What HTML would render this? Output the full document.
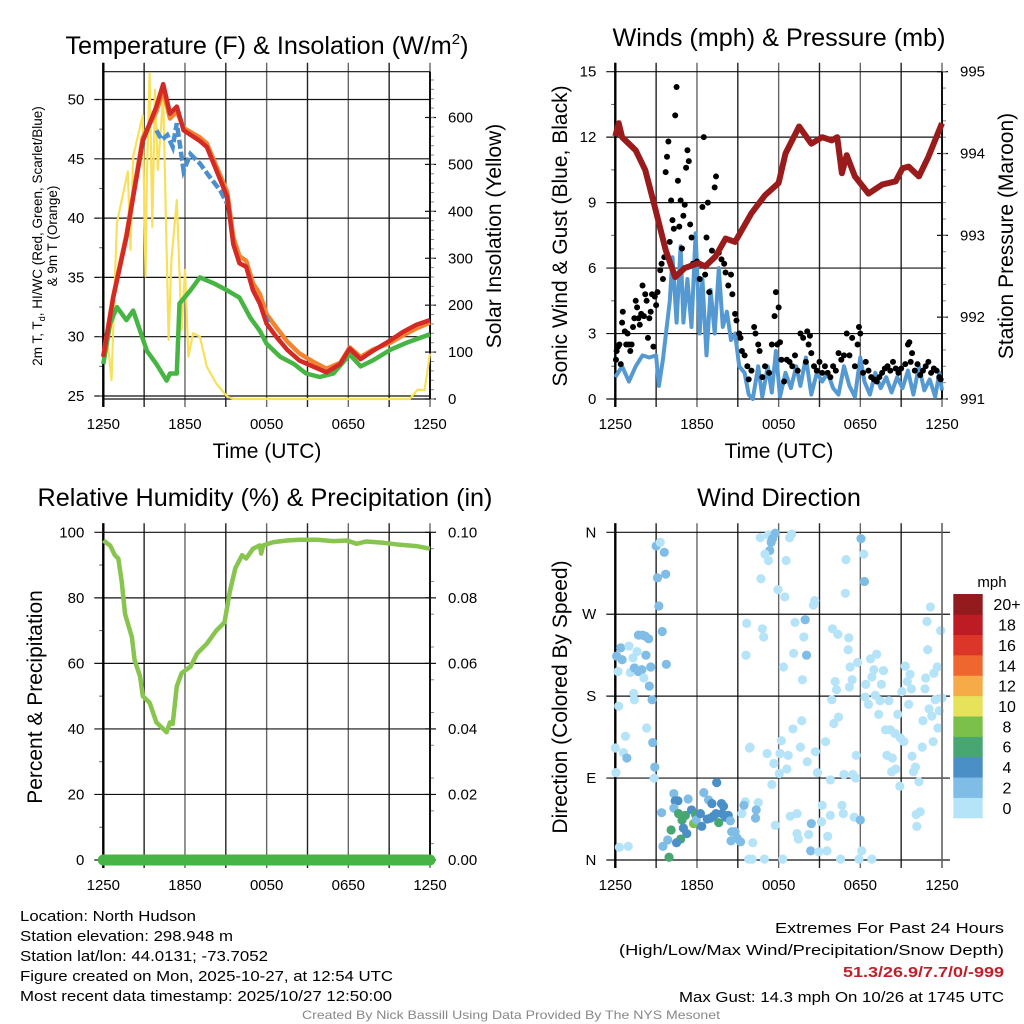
<!DOCTYPE html>
<html><head><meta charset="utf-8"><title>NYS Mesonet North Hudson</title>
<style>
html,body{margin:0;padding:0;background:#fff;}
svg{display:block;font-family:"Liberation Sans",Arial,sans-serif;}
</style></head>
<body>
<svg id="fig" xmlns="http://www.w3.org/2000/svg" width="1024" height="1024" viewBox="0 0 1024 1024">
<rect width="1024" height="1024" fill="#fff"/>
<g id="layer"></g>
<g fill="#000">
<text x="267" y="54" font-size="25.2" text-anchor="middle">Temperature (F) &amp; Insolation (W/m<tspan font-size="15" dy="-10">2</tspan><tspan dy="10">)</tspan></text>
<text x="779" y="46" font-size="25.2" text-anchor="middle">Winds (mph) &amp; Pressure (mb)</text>
<text x="265" y="506" font-size="25.2" text-anchor="middle">Relative Humidity (%) &amp; Precipitation (in)</text>
<text x="779" y="506" font-size="25.2" text-anchor="middle">Wind Direction</text>
<text transform="translate(42,236) rotate(-90)" font-size="13.5" text-anchor="middle">2m T, T<tspan font-size="9" dy="3">d</tspan><tspan dy="-3">, HI/WC (Red, Green, Scarlet/Blue)</tspan></text>
<text transform="translate(57,236) rotate(-90)" font-size="13.5" text-anchor="middle">&amp; 9m T (Orange)</text>
<text transform="translate(501,236) rotate(-90)" font-size="21" text-anchor="middle">Solar Insolation (Yellow)</text>
<text x="267" y="458" font-size="21" text-anchor="middle">Time (UTC)</text>
<text transform="translate(567,236) rotate(-90)" font-size="21" text-anchor="middle">Sonic Wind &amp; Gust (Blue, Black)</text>
<text transform="translate(1013,236) rotate(-90)" font-size="21" text-anchor="middle">Station Pressure (Maroon)</text>
<text x="779" y="458" font-size="21" text-anchor="middle">Time (UTC)</text>
<text transform="translate(42,697) rotate(-90)" font-size="21" text-anchor="middle">Percent &amp; Precipitation</text>
<text transform="translate(567,697) rotate(-90)" font-size="21" text-anchor="middle">Direction (Colored By Speed)</text>
<text x="992" y="587" font-size="15" text-anchor="middle">mph</text>
</g>
<g font-size="15" fill="#000">
<text x="20" y="921" textLength="176" lengthAdjust="spacingAndGlyphs">Location: North Hudson</text>
<text x="20" y="941" textLength="213" lengthAdjust="spacingAndGlyphs">Station elevation: 298.948 m</text>
<text x="20" y="961" textLength="248" lengthAdjust="spacingAndGlyphs">Station lat/lon: 44.0131; -73.7052</text>
<text x="20" y="981" textLength="373" lengthAdjust="spacingAndGlyphs">Figure created on Mon, 2025-10-27, at 12:54 UTC</text>
<text x="20" y="1001" textLength="372" lengthAdjust="spacingAndGlyphs">Most recent data timestamp: 2025/10/27 12:50:00</text>
<text x="1004" y="933" text-anchor="end" textLength="229" lengthAdjust="spacingAndGlyphs">Extremes For Past 24 Hours</text>
<text x="1004" y="955" text-anchor="end" textLength="385" lengthAdjust="spacingAndGlyphs">(High/Low/Max Wind/Precipitation/Snow Depth)</text>
<text x="1004" y="977" text-anchor="end" textLength="161" lengthAdjust="spacingAndGlyphs" fill="#c0202a" font-weight="bold">51.3/26.9/7.7/0/-999</text>
<text x="1004" y="1002" text-anchor="end" textLength="325" lengthAdjust="spacingAndGlyphs">Max Gust: 14.3 mph On 10/26 at 1745 UTC</text>
<text x="511" y="1019" text-anchor="middle" font-size="12" fill="#888" textLength="418" lengthAdjust="spacingAndGlyphs">Created By Nick Bassill Using Data Provided By The NYS Mesonet</text>
</g>
</svg>
<script>
// ---------- data (time in hours since 1250 UTC) ----------
const xTickLabels = ["1250","1850","0050","0650","1250"];
const tempTimes = [0,0.73,1.7,2.2,2.9,3.9,4.4,4.9,5.4,5.9,7.1,7.6,9.1,9.55,10.0,10.5,11.0,11.5,12.0,12.7,13.5,14.4,15.4,16.4,17.4,18.1,18.9,19.8,21.1,22.0,23.0,24];
const tempValues = [28.3,33.3,38.4,41.8,46.5,49.4,51.3,48.8,49.4,47.4,46.5,46.0,41.8,37.8,36.2,35.9,33.9,32.8,31.1,30.0,28.9,28.0,27.5,27.0,27.7,29.0,28.1,28.8,29.7,30.4,31.0,31.4];
const temp9mValues = [28.4,33.4,38.6,42.0,46.8,49.0,50.8,48.4,49.0,47.6,46.8,46.3,42.2,38.4,36.8,36.4,34.5,33.6,31.9,30.8,29.6,28.6,27.9,27.3,27.8,29.1,28.3,28.9,29.5,30.1,30.7,31.2];
const hiwcTimes = [3.9,4.3,4.7,5.1,5.4,5.9,6.4,7.1,7.8,8.6,9.1,null,11.9,12.1];
const hiwcValues = [47.4,46.6,47.0,46.0,48.0,44.0,45.4,44.6,43.5,42.3,41.2,null,31.8,31.2];
const dewTimes = [0,0.5,1.0,1.7,2.2,2.7,3.2,3.9,4.65,4.9,5.4,5.6,6.4,7.1,8.1,9.1,10.0,10.8,11.5,12.0,13.0,14.0,14.9,15.9,16.9,18.1,18.9,19.8,21.1,22.3,24];
const dewValues = [27.7,31.1,32.5,31.4,32.2,30.5,28.8,27.7,26.3,26.9,26.9,32.8,33.9,35.0,34.5,33.9,33.3,31.6,30.5,29.4,28.3,27.7,26.9,26.6,26.9,28.5,27.5,28.0,28.9,29.5,30.2];
const solarTimes = [0,0.25,0.6,1.0,1.8,2.0,2.2,2.9,3.1,3.2,3.4,3.6,3.8,4.0,4.4,4.8,5.0,5.4,5.75,6.0,6.25,6.6,7.1,7.6,8.3,9.1,9.6,22.5,23.1,23.6,24];
const solarValues = [76,144,40,375,485,318,517,605,261,474,694,367,659,488,645,126,296,424,147,275,90,140,133,69,33,5,0,0,20,19,97];
const pressTimes = [0,0.25,0.5,1.5,2.2,2.9,3.7,4.4,5.1,6.1,6.6,7.35,8.1,8.8,10.0,11.0,12.0,12.5,13.5,14.4,15.2,15.9,16.3,16.65,17.0,17.6,18.6,19.6,20.6,21.1,21.55,22.3,23.0,24];
const pressValues = [994.21,994.37,994.2,994.04,993.8,993.35,992.82,992.49,992.6,992.66,992.62,992.74,992.96,992.92,993.27,993.49,993.64,994.0,994.33,994.12,994.2,994.16,994.2,993.76,993.98,993.72,993.51,993.62,993.66,993.82,993.84,993.72,993.96,994.37];
const windTimes = [0,0.5,1.0,1.5,2.0,2.5,3.0,3.2,3.5,4.0,4.2,4.5,4.8,5.0,5.3,5.6,5.9,6.2,6.4,6.7,7.0,7.3,7.6,7.9,8.2,8.5,8.8,9.1,9.5,9.8,10.1,10.5,10.8,11.2,11.5,11.8,12.1,12.5,12.9,13.3,13.6,14.0,14.4,14.8,15.2,15.6,16.0,16.4,16.8,17.2,17.6,18.0,18.3,18.7,19.1,19.5,19.9,20.3,20.7,21.1,21.5,21.9,22.3,22.7,23.1,23.5,23.8,24];
const windValues = [1.0,1.5,0.8,1.5,2.0,1.9,2.0,0.6,1.8,4.5,6.5,3.5,7.0,3.5,5.5,3.3,7.6,3.0,5.5,2.0,5.0,3.0,6.0,3.3,4.0,2.7,3.0,1.5,1.2,0.2,0,1.5,0.1,1.5,0.3,2.2,0.1,1.2,0.5,1.5,0.6,1.9,0.2,1.2,0.8,1.2,0.5,0.2,1.5,0.6,0.1,1.9,0.8,0.2,1.2,0.5,1.0,0.3,1.0,0.5,1.3,0.2,1.5,0.4,0.9,0.1,1.2,0.4];
const gustTimes = [0.05,0.1,0.2,0.3,0.4,0.5,0.55,0.7,0.8,0.9,1.0,1.1,1.2,1.3,1.4,1.5,1.6,1.7,1.8,1.9,2.0,2.1,2.2,2.3,2.4,2.5,2.6,2.7,2.8,2.9,3.0,3.1,3.3,3.4,3.5,3.6,3.7,3.8,3.9,4.0,4.1,4.2,4.3,4.4,4.5,4.6,4.7,4.8,4.9,5.0,5.1,5.2,5.3,5.4,5.5,5.6,5.7,6.0,6.2,6.4,6.5,6.6,6.7,6.8,6.9,7.1,7.3,7.4,7.6,7.8,8.0,8.1,8.3,8.5,8.6,8.8,8.9,9.1,9.2,9.3,9.5,9.7,9.8,10.0,10.2,10.3,10.5,10.6,10.8,11.0,11.3,11.5,11.7,11.8,11.9,12.0,12.1,12.2,12.4,12.6,12.8,13.0,13.2,13.4,13.6,13.8,14.0,14.1,14.2,14.3,14.4,14.6,14.8,15.0,15.2,15.4,15.6,15.8,16.0,16.2,16.4,16.6,16.8,17.0,17.2,17.4,17.6,17.8,17.9,18.0,18.2,18.4,18.6,18.8,19.0,19.2,19.4,19.6,19.8,20.0,20.2,20.4,20.6,20.8,21.0,21.3,21.5,21.6,21.7,21.8,22.0,22.2,22.4,22.6,22.8,23.0,23.2,23.4,23.6,23.8,23.9];
const gustValues = [1.8,2.2,2.4,2.5,1.6,3.5,4.0,3.1,2.5,3.0,2.5,2.2,2.5,3.3,3.7,4.5,4.2,3.7,3.4,3.9,5.2,3.8,4.8,4.5,2.8,3.7,4.0,4.8,2.4,4.7,4.3,4.9,5.9,6.2,5.5,6.5,10.4,11.1,11.8,7.2,9.1,8.2,7.8,13.0,14.3,10.0,7.9,9.1,6.9,8.4,8.9,10.6,11.4,10.9,8.0,7.4,6.2,6.3,5.5,8.8,12.0,5.7,7.4,9.0,4.9,6.8,9.7,10.2,6.7,6.4,6.2,5.8,5.2,5.7,4.8,3.9,3.6,3.0,2.8,2.2,2.0,1.5,0.9,1.3,3.3,3.0,2.5,2.2,1.0,1.5,1.2,2.5,3.8,4.9,2.5,4.2,2.6,1.8,0.8,1.8,1.7,1.5,2.0,1.3,3.0,2.8,1.7,3.1,2.5,2.9,2.1,1.5,1.3,1.7,1.2,1.5,1.2,1.0,1.5,1.3,2.1,1.8,2.0,3.0,2.0,2.8,1.5,2.5,3.3,3.0,1.2,1.7,1.3,1.0,0.9,0.8,1.0,1.2,1.4,1.5,1.3,1.7,1.4,1.2,1.4,1.6,2.5,2.6,1.7,2.1,1.3,1.6,1.1,1.3,1.5,1.7,1.2,1.4,1.3,1.0,0.9];
const rhTimes = [0,0.5,0.85,1.1,1.35,1.6,2.1,2.3,2.7,2.9,3.4,3.9,4.4,4.65,4.9,5.1,5.4,5.75,6.4,6.9,7.6,8.3,8.9,9.3,9.7,10.2,10.5,11.0,11.5,11.6,11.75,12.5,13.5,14.45,15.7,16.9,17.9,18.6,19.3,20.6,21.8,23.0,24];
const rhValues = [97.5,96,93,92,85,75,68,61,56,50,48,42,40,39,42,41.5,53,57,59,63,66,70,72.5,82,89,93,92,95,96,93.5,96,97,97.5,97.7,97.7,97.3,97.5,96.5,97.2,96.8,96.2,95.8,95];
const precipTimes = [0,24];
const precipValues = [0,0];
const dirTimes = [0.1,0.2,0.4,0.5,1.0,1.1,1.3,1.6,1.7,2.0,2.2,2.45,1.4,1.7,1.95,2.1,2.25,2.6,2.5,2.7,1.35,1.4,0.25,2.3,2.75,0.75,0.6,0.85,0.0,0.05,2.9,2.85,0.3,0.95,3.0,3.3,3.6,3.1,3.7,3.2,3.45,3.75,4.3,4.4,4.6,5.35,3.4,4.3,4.65,4.9,5.15,5.6,5.75,5.9,5.95,6.25,6.5,6.35,6.85,7.1,6.75,7.0,7.2,7.45,7.4,7.6,7.8,7.95,8.1,8.3,8.45,7.85,5.0,5.25,4.1,4.8,4.5,3.85,3.5,3.95,8.55,8.8,8.5,8.95,9.2,9.3,9.55,9.45,9.8,10.05,10.5,10.35,10.3,10.95,10.1,9.9,10.65,11.25,11.75,11.55,11.45,11.35,11.0,11.25,12.55,10.7,11.95,12.45,12.8,12.95,9.65,10.8,10.9,9.6,12.35,13.2,13.1,13.95,14.05,13.85,13.75,14.55,14.65,13.7,13.05,12.2,9.85,11.15,12.1,12.7,13.6,11.65,12.6,12.05,11.5,14.1,14.7,14.85,13.35,12.85,11.75,13.35,13.45,14.2,14.4,14.35,14.95,15.55,15.6,15.15,15.2,15.8,12.3,16.05,16.4,15.9,15.45,15.8,15.95,16.35,16.15,16.25,16.9,16.95,17.15,17.1,17.25,17.4,17.2,17.8,17.7,16.8,17.45,17.65,16.65,16.75,17.55,18.0,16.55,17.9,18.1,18.05,18.25,18.3,18.4,18.35,18.6,18.75,18.85,19.0,19.1,19.2,19.35,19.45,19.55,19.7,19.85,20.1,19.95,20.35,20.2,20.55,20.3,20.6,20.75,20.9,20.95,21.2,21.05,21.3,21.45,21.55,21.65,21.75,21.8,21.9,22.05,22.1,22.15,22.3,22.4,22.55,22.6,22.75,22.8,22.9,22.95,23.05,23.15,23.25,23.35,23.4,23.5,23.65,23.7,23.8,23.9,24.0,18.85];
const dirDegrees = [224,207,233,220,235,206,222,229,247,247,246,243,211,207,209,200,225,212,191,176,183,176,169,145,129,136,118,112,123,96,102,90,14,15,345,349,338,310,314,279,251,215,73,65,65,67,52,57,51,44,49,55,40,50,44,51,74,37,66,62,45,46,48,85,51,41,62,59,47,49,43,51,35,29,33,23,19,22,15,3,31,31,21,24,20,51,64,60,1,1,63,55,46,1,19,124,354,357,359,353,349,340,336,329,329,309,297,289,354,358,260,254,245,225,212,261,227,264,225,245,198,280,285,153,144,131,123,117,117,115,124,106,100,95,83,108,119,96,51,48,38,29,23,28,40,10,9,10,26,42,60,49,1,150,157,176,130,88,254,248,196,187,293,330,244,231,212,198,190,217,115,94,94,90,60,51,47,44,1,1,10,353,336,306,193,179,171,221,201,209,181,226,160,175,193,208,143,175,115,112,143,139,97,100,160,81,134,130,185,213,196,171,204,188,114,97,102,50,37,86,53,124,153,188,200,262,231,166,278,158,130,205,176,212,145,164,252,178,1];
const dirSpeeds = [3,1,3,3,1,1,1,1,3,3,3,3,3,3,3,1,3,3,3,3,1,1,1,1,3,1,1,3,1,1,3,1,1,1,3,1,3,3,3,3,3,3,3,5,5,3,3,3,7,7,7,5,9,7,3,5,3,5,3,5,5,5,5,5,5,7,5,5,5,5,3,5,5,5,7,7,5,3,3,7,3,3,3,3,3,1,1,3,1,1,1,3,3,1,1,1,1,1,3,3,3,3,1,1,1,1,1,1,1,1,1,1,1,1,1,1,1,3,3,1,1,1,1,1,1,1,1,1,1,1,1,1,1,1,1,1,1,1,1,1,1,1,1,1,3,3,1,1,1,1,1,1,1,1,1,1,1,1,1,1,1,1,1,1,1,1,1,1,1,1,1,1,1,1,1,1,1,3,1,1,1,3,1,3,1,1,1,1,1,1,1,1,1,1,1,1,1,1,1,1,1,1,1,1,1,1,1,1,1,1,1,1,1,1,1,1,1,1,1,1,1,1,1,1,1,1,1,1,1,1,1,1,1,1,1,1,1,1,1,1,1,1,1,1];
const cbLabels = ["0","2","4","6","8","10","12","14","16","18","20+"];
const cbColors = ["#b5e3f8","#7fbce6","#4a8fc6","#48a672","#7cc04c","#e6e25a","#f6aa48","#ef662e","#dc3629","#bd1c25","#931a1d"];
const tempLeftTicks = [25,30,35,40,45,50];
const solarTicks = [0,100,200,300,400,500,600];
const windTicks = [0,3,6,9,12,15];
const pressTicks = [991,992,993,994,995];
const rhTicks = [0,20,40,60,80,100];
const precipTicks = ["0.00","0.02","0.04","0.06","0.08","0.10"];
const dirTickLabels = ["N","E","S","W","N"];
const dirTickValues = [0,90,180,270,360];

// ---------- helpers ----------
const NS = "http://www.w3.org/2000/svg";
const layer = document.getElementById('layer');
function mk(tag, attrs, parent){const e=document.createElementNS(NS,tag);for(const k in attrs)e.setAttribute(k,attrs[k]);(parent||layer).appendChild(e);return e;}
const X0=103.3, X1=430;
function xScale(off){return t=>off+X0+t*(X1-X0)/24;}
function lin(d0,d1,r0,r1){return v=>r0+(v-d0)*(r1-r0)/(d1-d0);}

function frame(off,yTop,yBot,yTickVals,yScale,yLabels,minorVals,rightTicks,rightScale,rightLabels,rightMinor,hExtend){
  const xs=xScale(off);
  const g=mk('g',{});
  
  
  for(let h=0;h<=24;h+=3){
    const x=xs(h);
    const l=mk('line',{x1:x,x2:x,y1:yTop-9,y2:yBot+8,stroke:(h%6===0)?'#666':'#222','stroke-width':1.4},g);
    
    
  }
  yTickVals.forEach((v,i)=>{
    const y=yScale(v);
    const l=mk('line',{x1:off+X0-9,x2:off+X1+(hExtend||0),y1:y,y2:y,stroke:'#111','stroke-width':1.2},g);
    
    
    const t=mk('text',{x:off+X0-19,y:y+5,'font-size':15,'text-anchor':'end'},g);
    t.textContent=yLabels[i];
    
    
  });
  minorVals.forEach(v=>{
    const y=yScale(v);
    const l=mk('line',{x1:off+X0-4,x2:off+X0,y1:y,y2:y,stroke:'#555','stroke-width':1},g);
    
    
  });
  if(rightTicks){
    rightTicks.forEach((v,i)=>{
      const y=rightScale(v);
      const l=mk('line',{x1:off+X1-5,x2:off+X1+6,y1:y,y2:y,stroke:'#111','stroke-width':1.2},g);
      
      
      const t=mk('text',{x:off+X1+18,y:y+5,'font-size':15},g);
      t.textContent=rightLabels[i];
      
      
    });
    rightMinor.forEach(v=>{
      const y=rightScale(v);
      const l=mk('line',{x1:off+X1,x2:off+X1+4,y1:y,y2:y,stroke:'#888','stroke-width':1},g);
      
      
    });
  }
  const lf=mk('line',{x1:off+X0,x2:off+X0,y1:yTop-9,y2:yBot+8,stroke:'#000','stroke-width':2.4},g);
  
  
  xTickLabels.forEach((s,i)=>{
    const t=mk('text',{x:xs(i*6),y:yBot+30,'font-size':15,'text-anchor':'middle'},g);
    t.textContent=s;
    
    
  });
}
function pathD(ts,vs,xs,ys){let d='',pen=false;for(let i=0;i<ts.length;i++){if(ts[i]===null||vs[i]===null){pen=false;continue;}d+=(pen?'L':'M')+xs(ts[i]).toFixed(1)+','+ys(vs[i]).toFixed(1);pen=true;}return d;}
function range(a,b,s){const r=[];for(let v=a;v<=b+1e-9;v+=s)r.push(+v.toFixed(4));return r;}

// ---------- Panel 1: temperature ----------
(function(){
  const xs=xScale(0), yL=lin(25,50,396,99.5), yR=lin(0,600,399,117.5);
  frame(0,71.7,399,tempLeftTicks,yL,tempLeftTicks.map(String),range(22.5,52.5,2.5).filter(v=>v<=52.3),solarTicks,yR,solarTicks.map(String),range(0,690,20),0);
  const top=mk('line',{x1:X0,x2:X1,y1:71.7,y2:71.7,stroke:'#111','stroke-width':1.2});
  
  
  const bot=mk('line',{x1:X0,x2:X1,y1:399,y2:399,stroke:'#111','stroke-width':1.2});
  
  
  const rt=mk('line',{x1:X1,x2:X1,y1:71.7,y2:399,stroke:'#111','stroke-width':2});
  
  
  const sol=mk('path',{d:pathD(solarTimes,solarValues,xs,yR),fill:'none',stroke:'#f8e05a','stroke-width':2.2,'stroke-linejoin':'round'});
  
  
  const dew=mk('path',{d:pathD(dewTimes,dewValues,xs,yL),fill:'none',stroke:'#47b543','stroke-width':4.5,'stroke-linejoin':'round'});
  
  
  const t9=mk('path',{d:pathD(tempTimes,temp9mValues,xs,yL),fill:'none',stroke:'#f28430','stroke-width':4.5,'stroke-linejoin':'round'});
  
  
  const hw=mk('path',{d:pathD(hiwcTimes,hiwcValues,xs,yL),fill:'none',stroke:'#4a90cf','stroke-width':4.5,'stroke-dasharray':'9 3'});
  
  
  const t2=mk('path',{d:pathD(tempTimes,tempValues,xs,yL),fill:'none',stroke:'#d42a25','stroke-width':4.5,'stroke-linejoin':'round'});
  
  
})();

// ---------- Panel 2: winds ----------
(function(){
  const off=512, xs=xScale(off), yW=lin(0,15,399,71.7), yP=lin(991,995,399,71.7);
  frame(off,71.7,399,windTicks,yW,windTicks.map(String),range(1.5,13.5,3),pressTicks,yP,pressTicks.map(String),range(991,995,0.2),0);
  const rt=mk('line',{x1:off+X1,x2:off+X1,y1:71.7,y2:399,stroke:'#111','stroke-width':2});
  
  
  const w=mk('path',{d:pathD(windTimes,windValues,xs,yW),fill:'none',stroke:'#5599d3','stroke-width':4,'stroke-linejoin':'round'});
  
  
  gustTimes.forEach((t,i)=>{
    const c=mk('circle',{cx:xs(t),cy:yW(gustValues[i]),r:3,fill:'#000'});
    
    
  });
  const p=mk('path',{d:pathD(pressTimes,pressValues,xs,yP),fill:'none',stroke:'#9a1b1b','stroke-width':6,'stroke-linejoin':'round'});
  
  
})();

// ---------- Panel 3: RH ----------
(function(){
  const xs=xScale(0), yH=lin(0,100,860,532.3), yPr=lin(0,0.1,860,532.3);
  const pt=precipTicks.map(Number);
  frame(0,532.3,860,rhTicks,yH,rhTicks.map(String),range(10,90,20),pt,yPr,precipTicks,range(0.005,0.095,0.01),0);
  const rt=mk('line',{x1:X1,x2:X1,y1:532.3,y2:860,stroke:'#111','stroke-width':2});
  
  
  const rh=mk('path',{d:pathD(rhTimes,rhValues,xs,yH),fill:'none',stroke:'#87c54f','stroke-width':4.5,'stroke-linejoin':'round'});
  
  
  const pr=mk('path',{d:pathD(precipTimes,precipValues,xs,yPr),fill:'none',stroke:'#46b545','stroke-width':11,'stroke-linecap':'round'});
  
  
})();

// ---------- Panel 4: wind direction ----------
(function(){
  const off=512, xs=xScale(off), yD=lin(0,360,860,532.3);
  frame(off,532.3,860,dirTickValues,yD,dirTickLabels,[],null,null,null,null,8);
  function col(s){let k=Math.floor(s/2);if(k>10)k=10;if(k<0)k=0;return cbColors[k];}
  dirTimes.forEach((t,i)=>{
    const c=mk('circle',{cx:xs(t),cy:yD(dirDegrees[i]),r:4.6,fill:col(dirSpeeds[i])});
    
    
  });
  const rl=mk('line',{x1:off+X1,x2:off+X1,y1:523,y2:868,stroke:'#666','stroke-width':1.4});
  
  
  const y0=818, hh=(818-594)/cbColors.length;
  cbColors.forEach((c,i)=>{
    const r=mk('rect',{x:953.3,y:y0-(i+1)*hh,width:29.4,height:hh+0.3,fill:c});
    
    
    const t=mk('text',{x:1007,y:y0-(i+0.5)*hh+6,'font-size':16,'text-anchor':'middle'});
    t.textContent=cbLabels[i];
    
    
  });
})();
</script>
</body></html>
